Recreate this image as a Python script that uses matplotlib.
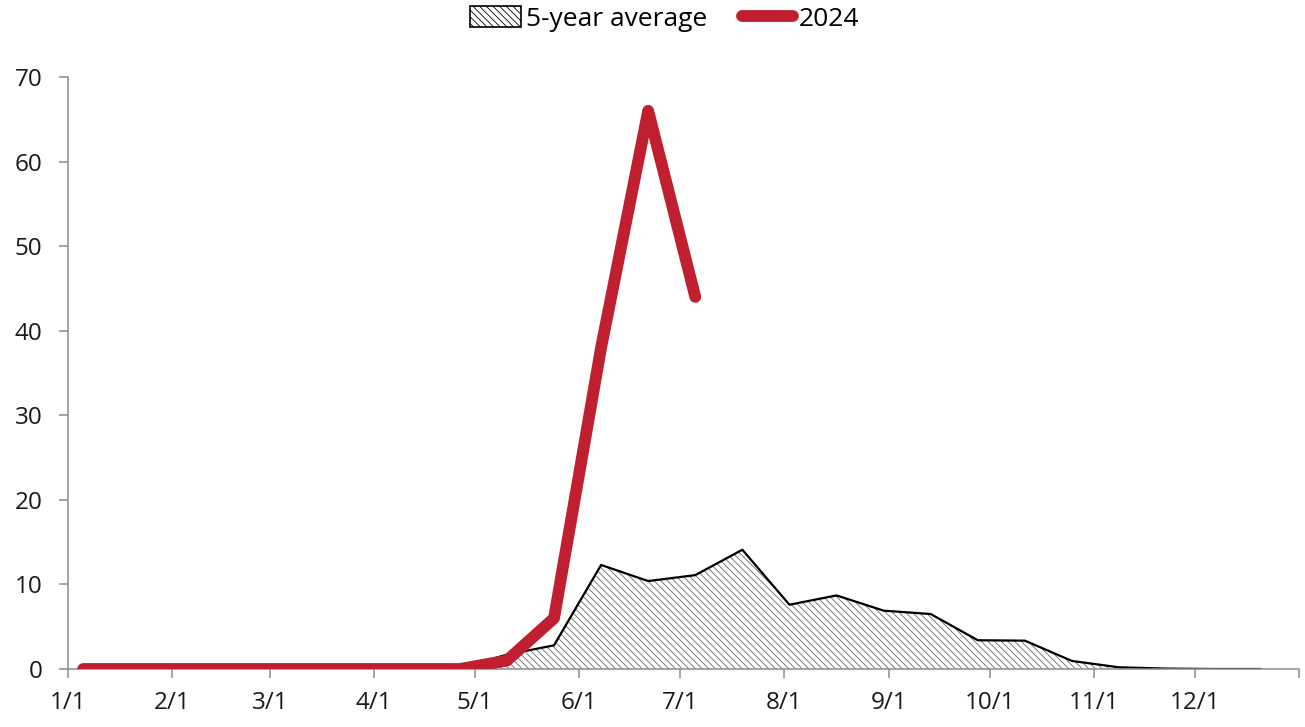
import matplotlib
matplotlib.use("Agg")
import matplotlib.pyplot as plt
from matplotlib.patches import Patch
from matplotlib.lines import Line2D
import pandas as pd

plt.rcParams['font.family'] = ['Open Sans', 'DejaVu Sans']
plt.rcParams['hatch.linewidth'] = 0.6

# ---- data ----
series_start = "2024-01-05 12:00"
avg_label = "5-year average"
cur_label = "2024"
avg_values = [0, 0, 0, 0, 0, 0, 0, 0, 0.1, 1.7, 2.8, 12.3, 10.4, 11.1, 14.1,
              7.6, 8.7, 6.9, 6.5, 3.4, 3.35, 0.95, 0.2, 0.05, 0, 0]
cur_values = [0, 0, 0, 0, 0, 0, 0, 0, 0, 1.0, 6.0, 38.0, 66.0, 44.0]
month_labels = ["1/1", "2/1", "3/1", "4/1", "5/1", "6/1", "7/1", "8/1",
                "9/1", "10/1", "11/1", "12/1", ""]
y_ticks = [0, 10, 20, 30, 40, 50, 60, 70]

avg_dates = pd.date_range(series_start, periods=len(avg_values), freq="14D")
cur_dates = pd.date_range(series_start, periods=len(cur_values), freq="14D")
tick_dates = pd.date_range("2024-01-01", periods=len(month_labels), freq="MS")

red = "#C01F30"
axis_gray = "#8C8C8C"
hatch = "\\\\\\\\\\"

fig = plt.figure(figsize=(13.05, 7.27), dpi=100)
ax = fig.add_axes([68/1305, 58/727, (1299-68)/1305, (669-77)/727])

ax.fill_between(avg_dates, avg_values, 0, facecolor="white", edgecolor="#666666",
                hatch=hatch, linewidth=0, zorder=1)
ax.plot(avg_dates, avg_values, color="black", lw=1.6, zorder=2)
ax.plot(cur_dates, cur_values, color=red, lw=8.5, solid_capstyle="round",
        solid_joinstyle="round", zorder=3)

ax.set_xlim(tick_dates[0], tick_dates[-1])
ax.set_ylim(0, 70)
ax.set_xticks(tick_dates)
ax.set_xticklabels(month_labels)
ax.set_yticks(y_ticks)

for s in ["top", "right"]:
    ax.spines[s].set_visible(False)
for s in ["left", "bottom"]:
    ax.spines[s].set_color(axis_gray)
    ax.spines[s].set_linewidth(1.1)
ax.tick_params(axis="both", colors=axis_gray, labelcolor="#1a1a1a", labelsize=17.5,
               length=6.5, width=1.1, direction="out")
ax.tick_params(axis="y", pad=12)
ax.tick_params(axis="x", pad=9)

handles = [Patch(facecolor="white", edgecolor="black", hatch=hatch, linewidth=1.2),
           Line2D([0], [0], color=red, lw=8.5, solid_capstyle="round")]
fig.legend(handles, [avg_label, cur_label], loc="center",
           bbox_to_anchor=(0.5 + 12/1305, 1 - 19/727),
           ncol=2, frameon=False, fontsize=19, handlelength=1.95, handleheight=0.8,
           handletextpad=0.2, columnspacing=1.3)

fig.savefig("out.png", dpi=100)
